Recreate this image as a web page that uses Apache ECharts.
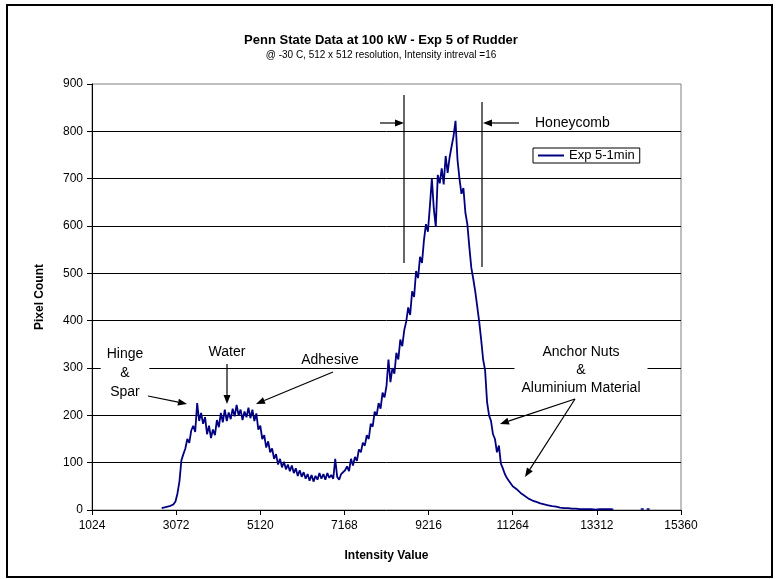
<!DOCTYPE html>
<html>
<head>
<meta charset="utf-8">
<title>Penn State Data at 100 kW - Exp 5 of Rudder</title>
<script src="https://cdn.jsdelivr.net/npm/echarts@6/dist/echarts.min.js"></script>
<style>
  html, body { margin: 0; padding: 0; background: #fff; }
  #main { width: 778px; height: 579px; }
</style>
</head>
<body>
<div id="main"></div>
<script>
// histogram bins, every 48 intensity units starting at 2720
const firstBin = 2720;
const binStep = 48;

// pixel counts per bin, split by region of the curve
const riseCounts = [4, 2, 6, 3, 8, 5, 12, 18, 35, 60, 105, 118, 130, 150, 142, 168, 178, 165, 226, 188, 205];
const humpCounts = [182, 196, 160, 178, 152, 170, 158, 190, 175, 205, 185, 212, 188, 206, 192, 214,
                    198, 222, 200, 212, 190, 208, 196, 216, 194, 212, 188, 204, 170, 178, 150, 158];
const valleyCounts = [132, 145, 122, 130, 108, 118, 96, 108, 90, 102, 86, 96, 82, 94, 78, 88, 72, 84, 70, 80,
                      66, 76, 62, 74, 60, 72, 64, 78, 66, 76, 64, 78, 68, 74, 66, 108, 70, 64, 76, 72, 84];
const climbCounts = [92, 82, 108, 94, 112, 104, 128, 122, 142, 136, 158, 150, 182, 176, 208, 200, 226, 214,
                     248, 238, 262, 318, 270, 300, 288, 332, 318, 360, 346];
const peakCounts = [380, 398, 428, 412, 462, 450, 505, 490, 535, 522, 570, 604, 588, 642, 700, 636, 598, 708,
                    690, 722, 688, 748, 712, 745, 768, 790, 822, 740, 700, 668, 680, 628, 604, 556, 512, 488,
                    462, 430, 398, 360, 318, 295];
const tailCounts = [228, 200, 188, 160, 150, 122, 136, 98, 88, 76, 68, 62, 56, 50, 52, 44, 42, 36, 38, 30,
                    28, 24, 25, 20, 22, 17, 19, 14, 16, 12, 15, 10, 12, 8, 11, 7, 8, 5, 7, 4,
                    6, 4, 5, 3, 4, 3, 4, 2, 3, 2, 3, 2, 1, 2, 2, 1, 2, 2, 1, 2, 1, 2, 1, 2, 1];

// two stray bins far out in the tail
const strayIntensity = [14416, 14560];
const strayCounts = [2, 2];

// axes
const xMin = 1024, xMax = 15360, xStep = 2048;
const yMin = 0, yMax = 900, yStep = 100;

const FONT = '"Liberation Sans", Arial, sans-serif';
const LINE_COLOR = '#000080';

const counts = riseCounts.concat(humpCounts, valleyCounts, climbCounts, peakCounts, tailCounts);
const histogram = counts.map((c, i) => [firstBin + i * binStep, c]);
const strays = strayIntensity.map((v, i) => [v, strayCounts[i]]);

// annotation helpers (pixel positions of the callouts)
function arrow(x1, y1, x2, y2) {
    const a = Math.atan2(y2 - y1, x2 - x1);
    const len = 9, half = 3.5;
    const bx = x2 - len * Math.cos(a), by = y2 - len * Math.sin(a);
    return [
        {type: 'line', z: 100, shape: {x1: x1, y1: y1, x2: bx, y2: by}, style: {stroke: '#000', lineWidth: 1.2}},
        {type: 'polygon', z: 100, shape: {points: [[x2, y2],
            [bx - half * Math.sin(a), by + half * Math.cos(a)],
            [bx + half * Math.sin(a), by - half * Math.cos(a)]]}, style: {fill: '#000'}}
    ];
}
function label(text, x, y, opts) {
    return {
        type: 'text', z: 100,
        style: Object.assign({
            text: text, x: x, y: y, align: 'center', verticalAlign: 'middle',
            font: '14px ' + FONT, fill: '#000', lineHeight: 18
        }, opts || {})
    };
}
function vline(x, y1, y2) {
    return {type: 'line', z: 100, shape: {x1: x, y1: y1, x2: x, y2: y2}, style: {stroke: '#000', lineWidth: 1.2}};
}

const notes = [].concat(
    [label('Hinge\n&\nSpar', 125, 373, {backgroundColor: '#fff', padding: [2, 6], lineHeight: 19})],
    arrow(148, 396, 187, 404),
    [label('Water', 227, 352)],
    arrow(227, 364, 227, 404),
    [label('Adhesive', 330, 360)],
    arrow(333, 372, 256, 404),
    [vline(404, 95, 263), vline(482, 102, 267)],
    arrow(380, 123, 404, 123),
    arrow(519, 123, 483, 123),
    [label('Honeycomb', 535, 123, {align: 'left'})],
    [label('Anchor Nuts\n&\nAluminium Material', 581, 370, {backgroundColor: '#fff', padding: [2, 7]})],
    arrow(575, 399, 500, 424),
    arrow(575, 399, 525, 477),
    [{type: 'rect', z: 90, shape: {x: 7, y: 5, width: 765, height: 572},
      style: {fill: 'none', stroke: '#000', lineWidth: 2}}]
);

const chart = echarts.init(document.getElementById('main'));

const option = {
    animation: false,
    backgroundColor: '#fff',
    textStyle: {fontFamily: FONT},
    title: {
        text: 'Penn State Data at 100 kW - Exp 5 of Rudder',
        subtext: '@ -30 C, 512 x 512 resolution, Intensity intreval =16',
        left: 381,
        top: 34,
        textAlign: 'center',
        padding: 0,
        itemGap: 3,
        textStyle: {fontSize: 13, fontWeight: 'bold', color: '#000', fontFamily: FONT},
        subtextStyle: {fontSize: 10, color: '#000', fontFamily: FONT}
    },
    legend: {
        data: [{name: 'Exp 5-1min', icon: 'rect'}],
        left: 533,
        top: 148,
        orient: 'vertical',
        padding: [1, 5],
        itemWidth: 26,
        itemHeight: 2,
        itemGap: 0,
        backgroundColor: '#fff',
        borderColor: '#000',
        borderWidth: 1,
        textStyle: {fontSize: 13, color: '#000', fontFamily: FONT}
    },
    grid: {
        left: 92,
        right: 97,
        top: 84,
        bottom: 69,
        show: true,
        borderColor: '#808080',
        borderWidth: 1,
        outerBoundsMode: 'none'
    },
    xAxis: {
        type: 'value',
        min: xMin,
        max: xMax,
        interval: xStep,
        name: 'Intensity Value',
        nameLocation: 'middle',
        nameGap: 40,
        nameTextStyle: {fontSize: 12, fontWeight: 'bold', color: '#000', fontFamily: FONT},
        axisLine: {lineStyle: {color: '#000', width: 1}},
        axisTick: {length: 5, lineStyle: {color: '#000'}},
        axisLabel: {fontSize: 12, color: '#000', margin: 10, fontFamily: FONT,
                    formatter: v => String(v)},
        splitLine: {show: false}
    },
    yAxis: {
        type: 'value',
        min: yMin,
        max: yMax,
        interval: yStep,
        name: 'Pixel Count',
        nameLocation: 'middle',
        nameGap: 46,
        nameTextStyle: {fontSize: 12, fontWeight: 'bold', color: '#000', fontFamily: FONT},
        axisLine: {show: true, lineStyle: {color: '#000', width: 1}},
        axisTick: {show: true, length: 5, lineStyle: {color: '#000'}},
        axisLabel: {fontSize: 12, color: '#000', margin: 9, fontFamily: FONT},
        splitLine: {show: true, showMinLine: false, showMaxLine: false, lineStyle: {color: '#000', width: 1}}
    },
    series: [{
        name: 'Exp 5-1min',
        type: 'line',
        data: histogram,
        showSymbol: false,
        color: LINE_COLOR,
        lineStyle: {color: LINE_COLOR, width: 1.8},
        z: 5
    }, {
        name: 'stray',
        type: 'scatter',
        data: strays,
        symbol: 'rect',
        symbolSize: [3, 2],
        itemStyle: {color: LINE_COLOR},
        z: 5
    }],
    graphic: notes
};

chart.setOption(option);
</script>
</body>
</html>
